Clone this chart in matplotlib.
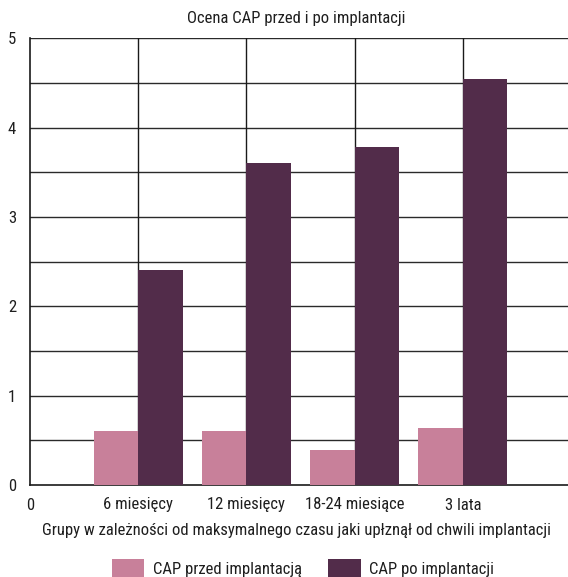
import matplotlib
matplotlib.use("Agg")
import matplotlib.pyplot as plt

# Chart data
categories = ["0", "6 miesięcy", "12 miesięcy", "18-24 miesiące", "3 lata"]
cap_przed = [0.0, 0.60, 0.60, 0.39, 0.64]
cap_po = [0.0, 2.41, 3.60, 3.78, 4.55]
y_ticks = [0, 1, 2, 3, 4, 5]

title = "Ocena CAP przed i po implantacji"
x_label = "Grupy w zależności od maksymalnego czasu jaki upłznął od chwili implantacji"
legend_labels = ["CAP przed implantacją", "CAP po implantacji"]

PINK = "#C8809A"
PLUM = "#522C4A"
TEXT = "#1e1e1e"

plt.rcParams["font.family"] = ["Roboto Condensed", "DejaVu Sans"]
FS = 12

fig = plt.figure(figsize=(5.68, 5.77), dpi=100)
W, H = 568, 577
left, right, bottom, top = 30, 571, 485, 38.3
ax = fig.add_axes([left / W, (H - bottom) / H, (right - left) / W, (bottom - top) / H])

x = list(range(len(categories)))
bw = 0.41
ax.bar(x, cap_przed, width=-bw, align="edge", color=PINK, zorder=3, label=legend_labels[0])
ax.bar(x, cap_po, width=bw, align="edge", color=PLUM, zorder=3, label=legend_labels[1])

ax.set_xlim(0, 5)
ax.set_ylim(0, 5)

# horizontal grid every 0.5, vertical lines at the group positions
for yv in [i * 0.5 for i in range(1, 11)]:
    ax.axhline(yv, color="#2a2a2a", lw=1.0, zorder=1)
for xv in x[1:]:
    ax.axvline(xv, color="#1a1a1a", lw=1.0, zorder=1)

ax.set_xticks(x)
ax.set_xticklabels(categories, fontsize=FS, color=TEXT)
ax.set_yticks(y_ticks)
ax.set_yticklabels([str(v) for v in y_ticks], fontsize=FS, color=TEXT)
ax.tick_params(length=0, pad=9)
ax.tick_params(axis="y", pad=10)

for s in ["top", "right"]:
    ax.spines[s].set_visible(False)
ax.spines["left"].set_color("#1a1a1a")
ax.spines["bottom"].set_color("#1a1a1a")
ax.spines["left"].set_linewidth(1.2)
ax.spines["bottom"].set_linewidth(1.2)

fig.text(296 / W, 1 - 19 / H, title, ha="center", va="center", fontsize=FS, color=TEXT)
fig.text(297 / W, 1 - 530 / H, x_label, ha="center", va="center", fontsize=FS, color=TEXT)

leg = fig.legend(loc="center", bbox_to_anchor=(303 / W, 9 / H), ncol=2, frameon=False,
                 fontsize=FS, handlelength=1.95, handleheight=1.3, handletextpad=0.5,
                 columnspacing=1.6, borderpad=0)
for t in leg.get_texts():
    t.set_color(TEXT)

fig.savefig("out.png", dpi=100)
